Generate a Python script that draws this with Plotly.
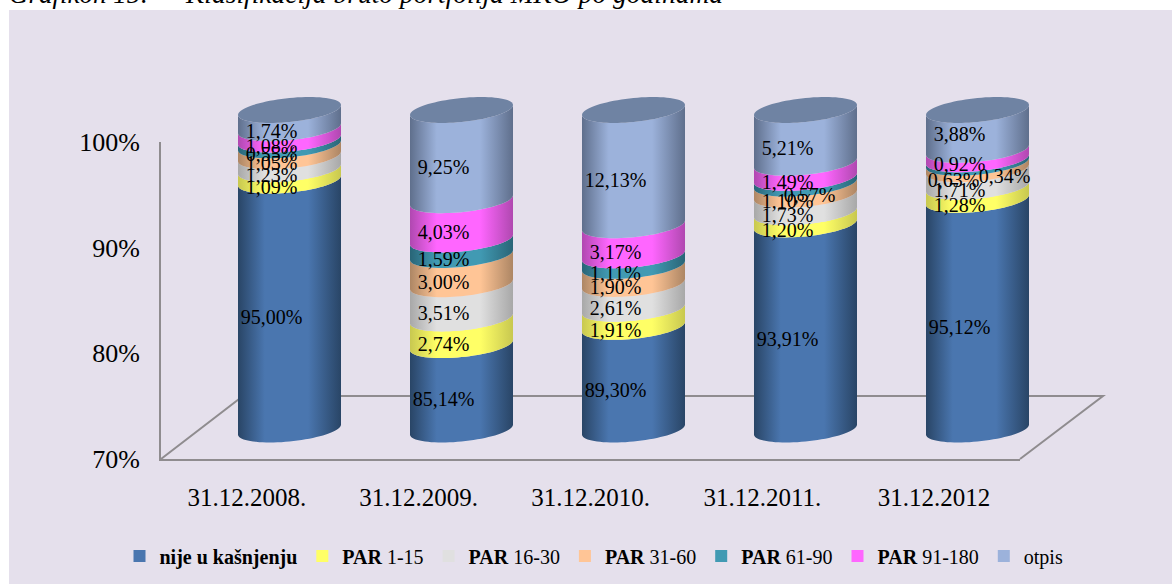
import plotly.graph_objects as go
import numpy as np

dates = ["31.12.2008.", "31.12.2009.", "31.12.2010.", "31.12.2011.", "31.12.2012"]
nije = [95.00, 85.14, 89.30, 93.91, 95.12]
par_1_15 = [1.09, 2.74, 1.91, 1.20, 1.28]
par_16_30 = [1.23, 3.51, 2.61, 1.73, 1.71]
par_31_60 = [1.05, 3.00, 1.90, 1.10, 0.63]
par_61_90 = [0.55, 1.59, 1.11, 0.57, 0.34]
par_91_180 = [1.08, 4.03, 3.17, 1.49, 0.92]
otpis = [1.74, 9.25, 12.13, 5.21, 3.88]
tick_vals = [70, 80, 90, 100]
tick_text = ["70%", "80%", "90%", "100%"]

series = [
    ("<b>nije u kašnjenju</b>", nije, "#4A76AF", "#294566"),
    ("<b>PAR</b> 1-15", par_1_15, "#FFFF66", "#C8C850"),
    ("<b>PAR</b> 16-30", par_16_30, "#E0E0E0", "#A8A8A8"),
    ("<b>PAR</b> 31-60", par_31_60, "#FFC596", "#AD8664"),
    ("<b>PAR</b> 61-90", par_61_90, "#419AB3", "#296577"),
    ("<b>PAR</b> 91-180", par_91_180, "#FF66FF", "#B048B0"),
    ("otpis", otpis, "#9CB2DB", "#5F6F8C"),
]

W, H = 1172, 584
PX_X, PX_Y = 172.0, 10.65          # cylinder scale: px per column, px per percent
CX0, Y70 = 289.5, 429.5            # pixel of column 0 and of the 70% level
A, B, S = 51.5, 12.0, 5.0          # ellipse half-width, half-height, shear (px)
x_rng = [-0.8, 4.8]
y_rng = [60, 110]
dom_x = [(CX0 + x_rng[0] * PX_X) / W, (CX0 + x_rng[1] * PX_X) / W]
dom_y = [(H - (Y70 + 10 * PX_Y)) / H, (H - (Y70 - 40 * PX_Y)) / H]

# manual nudges of overlapping data labels, in px: (series, column) -> (dx, dy)
nudges = {(4, 3): (22, 2), (3, 4): (-6, 2), (4, 4): (45, 3), (6, 4): (0, -8), (5, 4): (0, -2)}

totals = np.sum([s[1] for s in series], axis=0)
t = np.linspace(np.pi, 2 * np.pi, 41)
fig = go.Figure()
cum = np.full(5, 0.0)

labels = []
for si, (name, vals, col, dark) in enumerate(series):
    share = np.array(vals) / totals * 100
    top = cum + share
    bot = np.maximum(cum, 70)
    cs = [[0, dark], [0.26, col], [0.68, col], [1, dark]]
    for c in range(5):
        ax = np.cos(t) * A / PX_X
        ay = (-np.sin(t) * B - np.cos(t) * S) / PX_Y
        xs = np.concatenate([c + ax, (c + ax)[::-1]])
        ys = np.concatenate([top[c] - ay, (bot[c] - ay)[::-1]])
        fig.add_trace(go.Scatter(x=xs, y=ys, fill="toself", mode="none", xaxis="x2", yaxis="y2",
                                 fillgradient=dict(type="horizontal", colorscale=cs),
                                 hoverinfo="skip", showlegend=False))
    tx, ty, tt = [], [], []
    for c in range(5):
        dx, dy = nudges.get((si, c), (0, 0))
        tx.append(c + (-18 + dx) / PX_X)
        ty.append((top[c] + bot[c]) / 2 - (14 + dy) / PX_Y)
        tt.append(f"{vals[c]:.2f}".replace(".", ",") + "%")
    labels.append(go.Scatter(x=tx, y=ty, text=tt, mode="text", xaxis="x2", yaxis="y2",
                             textposition="middle center",
                             textfont=dict(family="Liberation Serif", size=20, color="#000000"),
                             hoverinfo="skip", showlegend=False))
    cum = top

# top caps
t2 = np.linspace(0, 2 * np.pi, 81)
for c in range(5):
    fig.add_trace(go.Scatter(x=c + np.cos(t2) * A / PX_X,
                             y=100 + (np.sin(t2) * B + np.cos(t2) * S) / PX_Y,
                             fill="toself", mode="none", fillcolor="#6F83A3", xaxis="x2", yaxis="y2",
                             hoverinfo="skip", showlegend=False))
for l in labels:
    fig.add_trace(l)

# legend entries
for name, vals, col, dark in series:
    fig.add_trace(go.Scatter(x=[None], y=[None], mode="markers", name=name, xaxis="x2", yaxis="y2",
                             marker=dict(symbol="square", size=12, color=col)))

serif = "Liberation Serif"
grey = "#8F8C8F"
fig.add_trace(go.Scatter(x=dates, y=[None] * 5, mode="markers", showlegend=False, xaxis="x", yaxis="y"))

fig.update_layout(
    width=W, height=H, margin=dict(l=0, r=0, t=0, b=0, autoexpand=False), autosize=False,
    paper_bgcolor="#FFFFFF", plot_bgcolor="rgba(0,0,0,0)",
    showlegend=True,
    legend=dict(orientation="h", x=(W / 2 + 8) / W, xanchor="center", y=(H - 556) / H, yanchor="middle",
                font=dict(family=serif, size=20, color="#000000"), itemwidth=30,
                bgcolor="rgba(0,0,0,0)", traceorder="normal"),
    xaxis=dict(domain=[161 / W, 1020 / W], anchor="y", type="category", range=[-0.5, 4.5],
               showgrid=False, zeroline=False, showline=True, linecolor=grey, linewidth=2,
               ticks="", ticklabelstandoff=15,
               tickfont=dict(family=serif, size=25, color="#000000")),
    yaxis=dict(domain=[(H - 459) / H, (H - 142) / H], anchor="x", range=[70, 100],
               tickvals=tick_vals, ticktext=tick_text,
               showgrid=False, zeroline=False, showline=True, linecolor=grey, linewidth=2,
               ticks="", ticklabelstandoff=14,
               tickfont=dict(family=serif, size=26, color="#000000")),
    xaxis2=dict(domain=dom_x, range=x_rng, anchor="y2", visible=False),
    yaxis2=dict(domain=dom_y, range=y_rng, anchor="x2", visible=False),
    shapes=[
        dict(type="rect", xref="paper", yref="paper", x0=9 / W, x1=1, y0=0, y1=(H - 10) / H,
             fillcolor="#E5E0EC", line_width=0, layer="below"),
        dict(type="path", xref="paper", yref="paper", layer="below",
             path=f"M {161/W} {(H-459)/H} L {243/W} {(H-396)/H} L {1103/W} {(H-396)/H} L {1020/W} {(H-459)/H}",
             line=dict(color=grey, width=2)),
    ],
    annotations=[
        dict(text="<i>Grafikon 15:</i>", xref="paper", yref="paper", x=7 / W, y=(H - 11) / H,
             xanchor="left", yanchor="bottom", showarrow=False,
             font=dict(family=serif, size=27, color="#000000")),
        dict(text="<i>Klasifikacija bruto portfolija MKO po godinama</i>", xref="paper", yref="paper",
             x=183 / W, y=(H - 11) / H, xanchor="left", yanchor="bottom", showarrow=False,
             font=dict(family=serif, size=27.5, color="#000000")),
    ],
)
fig.write_html("out.html", config={"displayModeBar": False},
               post_script="document.body.style.margin='0';document.body.style.overflow='hidden';")
